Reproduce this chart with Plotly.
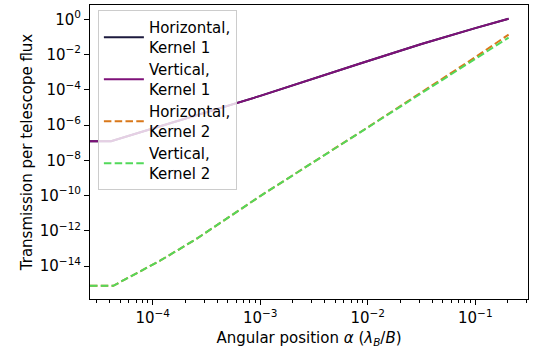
import plotly.graph_objects as go

# ---- data ----
alpha_k1 = [2.61e-5, 4.1e-5, 1.0e-4, 1.0e-3, 8.5e-3, 3.16e-2, 1.0e-1, 2.04e-1]
h_k1 = [1.2e-7, 1.2e-7, 6.3e-7, 4.5e-5, 3.1e-3, 3.98e-2, 3.16e-1, 1.07]
v_k1 = [1.2e-7, 1.2e-7, 6.3e-7, 4.5e-5, 3.1e-3, 3.98e-2, 3.16e-1, 1.07]

alpha_k2 = [2.61e-5, 4.3e-5, 1.17e-4, 2.5e-4, 1.0e-3, 1.0e-2, 1.0e-1, 2.04e-1]
h_k2 = [7.6e-16, 7.6e-16, 2.0e-14, 3.2e-13, 9.3e-11, 7.4e-7, 7.1e-3, 1.35e-1]
v_k2 = [7.6e-16, 7.6e-16, 2.0e-14, 3.2e-13, 9.3e-11, 7.4e-7, 6.3e-3, 9.1e-2]

names = ["Horizontal,<br>Kernel 1", "Vertical,<br>Kernel 1",
         "Horizontal,<br>Kernel 2", "Vertical,<br>Kernel 2"]
colors = ["#1c1a3e", "#7e1179", "#d9781a", "#52d95a"]

xtick_vals = [1e-4, 1e-3, 1e-2, 1e-1]
xtick_text = ["10<sup>\u22124</sup>", "10<sup>\u22123</sup>", "10<sup>\u22122</sup>", "10<sup>\u22121</sup>"]
xminor_vals = [m * 10.0 ** e for e in (-5, -4, -3, -2, -1) for m in range(2, 10)]
ytick_vals = [1e0, 1e-2, 1e-4, 1e-6, 1e-8, 1e-10, 1e-12, 1e-14]
ytick_text = ["10<sup>0</sup>"] + ["10<sup>\u2212%d</sup>" % k for k in (2, 4, 6, 8, 10, 12, 14)]

FONT = "DejaVu Sans"

fig = go.Figure()
series = [(alpha_k1, h_k1, "solid"), (alpha_k1, v_k1, "solid"),
          (alpha_k2, h_k2, "7.5px,3.3px"), (alpha_k2, v_k2, "7.5px,3.3px")]
for i, ((xs, ys, dash), name, col) in enumerate(zip(series, names, colors)):
    fig.add_trace(go.Scatter(x=xs, y=ys, mode="lines", name=name, legendgroup="g%d" % i,
                             line=dict(color=col, width=2, dash=dash)))

axis_common = dict(showline=True, linecolor="black", linewidth=1, mirror=True,
                   ticks="outside", ticklen=5, tickcolor="black", tickwidth=1,
                   showgrid=False, zeroline=False,
                   tickfont=dict(family=FONT, size=15, color="black"))

fig.update_xaxes(type="log", range=[-4.583, -0.51],
                 tickvals=xtick_vals, ticktext=xtick_text,
                 minor=dict(tickvals=xminor_vals, ticks="outside", ticklen=3,
                            tickcolor="black", tickwidth=1, showgrid=False),
                 title=dict(text="Angular position <i>\u03b1</i> (<i>\u03bb<sub>B</sub></i>/<i>B</i>)",
                            font=dict(family=FONT, size=15, color="black"), standoff=6),
                 **axis_common)
fig.update_yaxes(type="log", range=[-15.87, 0.81],
                 tickvals=ytick_vals, ticktext=ytick_text,
                 title=dict(text="Transmission per telescope flux",
                            font=dict(family=FONT, size=15, color="black"), standoff=3),
                 **axis_common)

fig.update_layout(
    width=537, height=350,
    margin=dict(l=90, r=9, t=5, b=51),
    plot_bgcolor="white", paper_bgcolor="white",
    font=dict(family=FONT, size=15, color="black"),
    legend=dict(x=0.018, y=0.982, xanchor="left", yanchor="top",
                bgcolor="rgba(255,255,255,0.8)", bordercolor="#cccccc", borderwidth=1,
                itemwidth=40, tracegroupgap=0,
                font=dict(family=FONT, size=15, color="black")),
    showlegend=True,
)

fig.write_html("out.html")
